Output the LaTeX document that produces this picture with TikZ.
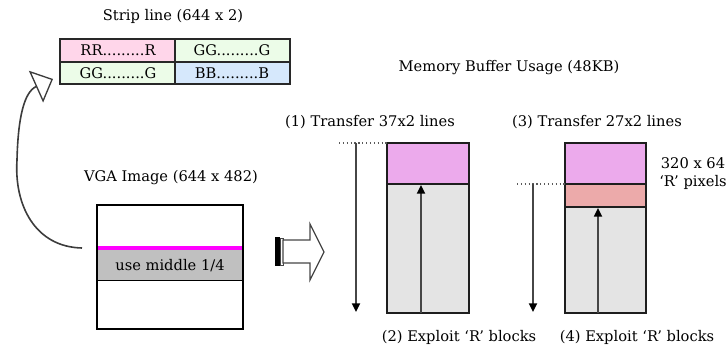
\documentclass[tikz,border=0pt]{standalone}
\usepackage{fontspec}
\setmainfont{DejaVu Serif}
\usetikzlibrary{arrows.meta}
\tikzset{every picture/.style={line width=0.75pt}}
\tikzset{
  lbl/.style={inner sep=0.75pt, font=\fontsize{11}{13.2}\selectfont},
  cellbox/.style={draw={rgb, 255:red, 40; green, 40; blue, 40}, line width=1.1pt},
  bufbox/.style={draw={rgb, 255:red, 30; green, 30; blue, 30}, line width=0.9pt},
  flowarr/.style={draw={rgb, 255:red, 70; green, 70; blue, 70}, line width=1.3pt, -{Triangle[length=6.5pt,width=6pt,color=black]}},
  guideline/.style={dotted, draw={rgb, 255:red, 90; green, 90; blue, 90}, line width=0.9pt}
}

\begin{document}
\begin{tikzpicture}[x=0.75pt,y=0.75pt,yscale=-1,xscale=1]
\path [use as bounding box] (0,0) rectangle (727,349);

%Shape: Rectangle [strip cells]
\draw  [cellbox][fill={rgb, 255:red, 255; green, 214; blue, 234 }] (60,39) rectangle (175,62) ;
\draw  [cellbox][fill={rgb, 255:red, 236; green, 252; blue, 232 }] (175,39) rectangle (290,62) ;
\draw  [cellbox][fill={rgb, 255:red, 236; green, 252; blue, 232 }] (60,62) rectangle (175,84) ;
\draw  [cellbox][fill={rgb, 255:red, 214; green, 232; blue, 252 }] (175,62) rectangle (290,84) ;

%Shape: Rectangle [VGA image]
\draw  [fill={rgb, 255:red, 192; green, 192; blue, 192 }] (97,248) rectangle (243,280) ;
\draw  [draw={rgb, 255:red, 255; green, 0; blue, 255 }, line width=3pt] (97,248) -- (243,248) ;
\draw  [line width=1.3pt] (97,205) rectangle (243,329) ;

%Curve Lines [back to the strip]
\coordinate (vgaleft) at (82,248) ;
\coordinate (striptip) at (53,79) ;
\draw [draw={rgb, 255:red, 60; green, 60; blue, 60 }, line width=1.2pt, -{Triangle[open, length=14pt, width=26pt, line width=1pt]}] (vgaleft) .. controls (35,247) and (14,205) .. (17,160) .. controls (18,118) and (24,92) .. (striptip) ;

%Shape: Right Arrow
\fill  (275,237) rectangle (280,266) ;
\draw  [fill=white, draw={rgb, 255:red, 70; green, 70; blue, 70 }] (280,238) rectangle (283,265) ;
\draw  [fill=white, draw={rgb, 255:red, 70; green, 70; blue, 70 }, line width=0.9pt] (283,240) -- (310,240) -- (310,224) -- (324,252) -- (310,280) -- (310,263) -- (283,263) -- cycle ;

%Shape: Rectangle [buffer 1]
\draw  [bufbox][fill={rgb, 255:red, 228; green, 228; blue, 228 }] (387,184) rectangle (469,313) ;
\draw  [bufbox][fill={rgb, 255:red, 236; green, 170; blue, 236 }] (387,143) rectangle (469,184) ;
%Shape: Rectangle [buffer 2]
\draw  [bufbox][fill={rgb, 255:red, 228; green, 228; blue, 228 }] (565,207) rectangle (646,313) ;
\draw  [bufbox][fill={rgb, 255:red, 236; green, 170; blue, 170 }] (565,184) rectangle (646,207) ;
\draw  [bufbox][fill={rgb, 255:red, 236; green, 170; blue, 236 }] (565,143) rectangle (646,184) ;

%Straight Lines [buffer 1]
\coordinate (fill1top) at (339,143) ;
\coordinate (buf1nw) at (387,143) ;
\coordinate (down1a) at (356,143) ;
\coordinate (down1b) at (356,312) ;
\coordinate (up1a) at (421,313) ;
\coordinate (up1b) at (421,185) ;
\draw [guideline] (fill1top) -- (buf1nw) ;
\draw [flowarr] (down1a) -- (down1b) ;
\draw [flowarr] (up1a) -- (up1b) ;
%Straight Lines [buffer 2]
\coordinate (fill2top) at (517,184) ;
\coordinate (buf2w) at (565,184) ;
\coordinate (down2a) at (533,184) ;
\coordinate (down2b) at (533,312) ;
\coordinate (up2a) at (598,313) ;
\coordinate (up2b) at (598,208) ;
\draw [guideline] (fill2top) -- (buf2w) ;
\draw [flowarr] (down2a) -- (down2b) ;
\draw [flowarr] (up2a) -- (up2b) ;

% Text Node
\draw (173,16) node [lbl] (striptitle) {Strip line (644 x 2)};
% Text Node
\draw (118,50.5) node [lbl] (cellrr) {RR.........R};
% Text Node
\draw (232,50.5) node [lbl] (cellgga) {GG.........G};
% Text Node
\draw (118,73) node [lbl] (cellggb) {GG.........G};
% Text Node
\draw (232,73) node [lbl] (cellbb) {BB.........B};
% Text Node
\draw (171,178) node [lbl] (vgatitle) {VGA Image (644 x 482)};
% Text Node
\draw (170,266) node [lbl] (middle) {use middle 1/4};
% Text Node
\draw (509,68) node [lbl] (buftitle) {Memory Buffer Usage (48KB)};
% Text Node
\draw (370,122) node [lbl] (xfer1) {(1) Transfer 37x2 lines};
% Text Node
\draw (597,122) node [lbl] (xfer2) {(3) Transfer 27x2 lines};
% Text Node
\draw (459,337) node [lbl] (exploit1) {(2) Exploit `R' blocks};
% Text Node
\draw (637,337) node [lbl] (exploit2) {(4) Exploit `R' blocks};
% Text Node
\draw (693,173.5) node [lbl, align=center] (pixnote) {320 x 64\\`R' pixels};
\end{tikzpicture}
\end{document}
